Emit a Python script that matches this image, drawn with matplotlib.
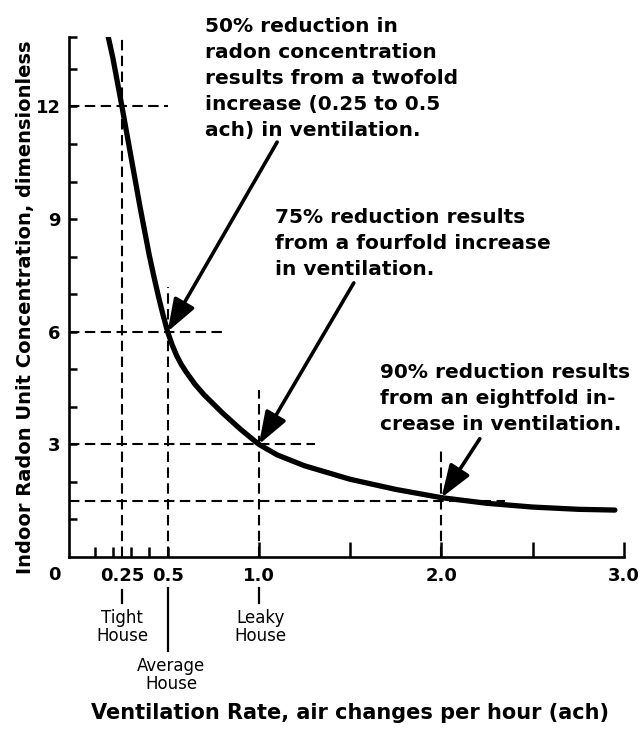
import matplotlib
matplotlib.use("Agg")
import matplotlib.pyplot as plt
from matplotlib.transforms import blended_transform_factory

# ---- data ----
vent_rate = [0.175, 0.2, 0.25, 0.3, 0.35, 0.4, 0.425, 0.45, 0.475, 0.5, 0.525, 0.55,
             0.575, 0.6, 0.65, 0.7, 0.8, 0.9, 1.0, 1.1, 1.25, 1.5, 1.75, 2.0,
             2.25, 2.5, 2.75, 2.95]
concentration = [13.85, 13.3, 12.0, 10.65, 9.3, 8.03, 7.47, 6.94, 6.45, 6.0, 5.65, 5.36,
                 5.13, 4.94, 4.6, 4.32, 3.84, 3.4, 3.0, 2.72, 2.43, 2.07, 1.8, 1.58,
                 1.43, 1.33, 1.27, 1.25]

ref_x = [0.25, 0.5, 1.0, 2.0]          # vertical dashed guides
ref_x_top = [13.85, 7.2, 4.45, 2.9]
ref_y = [12, 6, 3, 1.5]                # horizontal dashed guides
ref_y_end = [0.5, 0.8, 1.31, 2.35]

xtick_pos = [0.25, 0.5, 1.0, 1.5, 2.0, 2.5, 3.0]
xtick_lab = ["0.25", "0.5", "1.0", "", "2.0", "", "3.0"]
xminor = [0.1, 0.2, 0.3, 0.4]
ytick_pos = [1, 2, 3, 4, 5, 6, 7, 8, 9, 10, 11, 12, 13, 13.85]
ytick_lab = ["", "", "3", "", "", "6", "", "", "9", "", "", "12", "", ""]

house_x = [0.25, 0.5, 1.0]
house_lab = ["Tight\nHouse", "Average\nHouse", "Leaky\nHouse"]

notes = [
    ["50% reduction in", "radon concentration", "results from a twofold",
     "increase (0.25 to 0.5", "ach) in ventilation."],
    ["75% reduction results", "from a fourfold increase", "in ventilation."],
    ["90% reduction results", "from an eightfold in-", "crease in ventilation."],
]
note_heads = [(0.5, 6.0), (1.0, 3.0), (2.0, 1.58)]
note_tails = [(1.10, 11.05), (1.52, 7.3), (2.21, 3.15)]

plt.rcParams['font.family'] = ['DejaVu Sans']

W, H = 643, 731
fig = plt.figure(figsize=(W / 100, H / 100), dpi=100)
ax = fig.add_axes([69 / W, 1 - 557 / H, (624 - 69) / W, (557 - 37) / H])
ax.set_xlim(-0.04, 3.0)
ax.set_ylim(0, 13.85)

for s in ["top", "right"]:
    ax.spines[s].set_visible(False)
for s in ["left", "bottom"]:
    ax.spines[s].set_linewidth(1.9)

# dashed guides
dash = dict(color="black", lw=1.5, dashes=(5, 2.6))
for xv, top in zip(ref_x, ref_x_top):
    ax.plot([xv, xv], [0, top], **dash)
for yv, end in zip(ref_y, ref_y_end):
    ax.plot([-0.04, end], [yv, yv], **dash)

# main curve
ax.plot(vent_rate, concentration, color="black", lw=3.8,
        solid_capstyle="round", solid_joinstyle="round")

# ticks
ax.set_xticks(xtick_pos)
ax.set_xticklabels(xtick_lab, fontsize=13, fontweight="bold")
ax.set_xticks(xminor, minor=True)
ax.tick_params(axis="x", which="major", direction="in", length=11, width=1.8, pad=7)
ax.tick_params(axis="x", which="minor", direction="in", length=7, width=1.8)
xt = ax.xaxis.get_major_ticks()
xt[0].tick1line.set_visible(False)
xt[1].tick1line.set_markersize(7)

ax.set_yticks(ytick_pos)
ax.set_yticklabels(ytick_lab, fontsize=13, fontweight="bold")
ax.tick_params(axis="y", direction="in", length=6, width=1.8, pad=6)

# shared zero label at the corner
fig.text(61 / W, 1 - 575 / H, "0", fontsize=13, fontweight="bold",
         ha="right", va="center")

# house labels below axis
tr = blended_transform_factory(ax.transData, fig.transFigure)
line_spans = [(590, 603), (588, 651), (588, 603)]
text_tops = [609, 657, 609]
text_dx = [0.0, 0.02, 0.01]
for xv, lab, (y0, y1), tt, dx in zip(house_x, house_lab, line_spans, text_tops, text_dx):
    ax.plot([xv, xv], [1 - y0 / H, 1 - y1 / H], color="black", lw=1.6,
            transform=tr, clip_on=False)
    ax.text(xv + dx, 1 - tt / H, lab, transform=tr, ha="center", va="top",
            fontsize=12, linespacing=1.0)

# annotations
note_left = [205, 275, 380]
note_first_base = [32, 223, 378]
for lines, left, base in zip(notes, note_left, note_first_base):
    for i, ln in enumerate(lines):
        fig.text(left / W, 1 - (base + 26 * i) / H, ln, fontsize=14.5,
                 fontweight="bold", ha="left", va="baseline")

for head, tail in zip(note_heads, note_tails):
    ax.annotate("", xy=head, xytext=tail,
                arrowprops=dict(arrowstyle="-|>,head_length=0.9,head_width=0.32",
                                color="black", lw=2.6, mutation_scale=22,
                                shrinkA=0, shrinkB=0))

fig.text(26 / W, 1 - 307 / H, "Indoor Radon Unit Concentration, dimensionless",
         rotation=90, fontsize=14, fontweight="bold", ha="center", va="center")
fig.text(350 / W, 1 - 713 / H, "Ventilation Rate, air changes per hour (ach)",
         fontsize=15, fontweight="bold", ha="center", va="center")

fig.savefig("out.png", dpi=100)
